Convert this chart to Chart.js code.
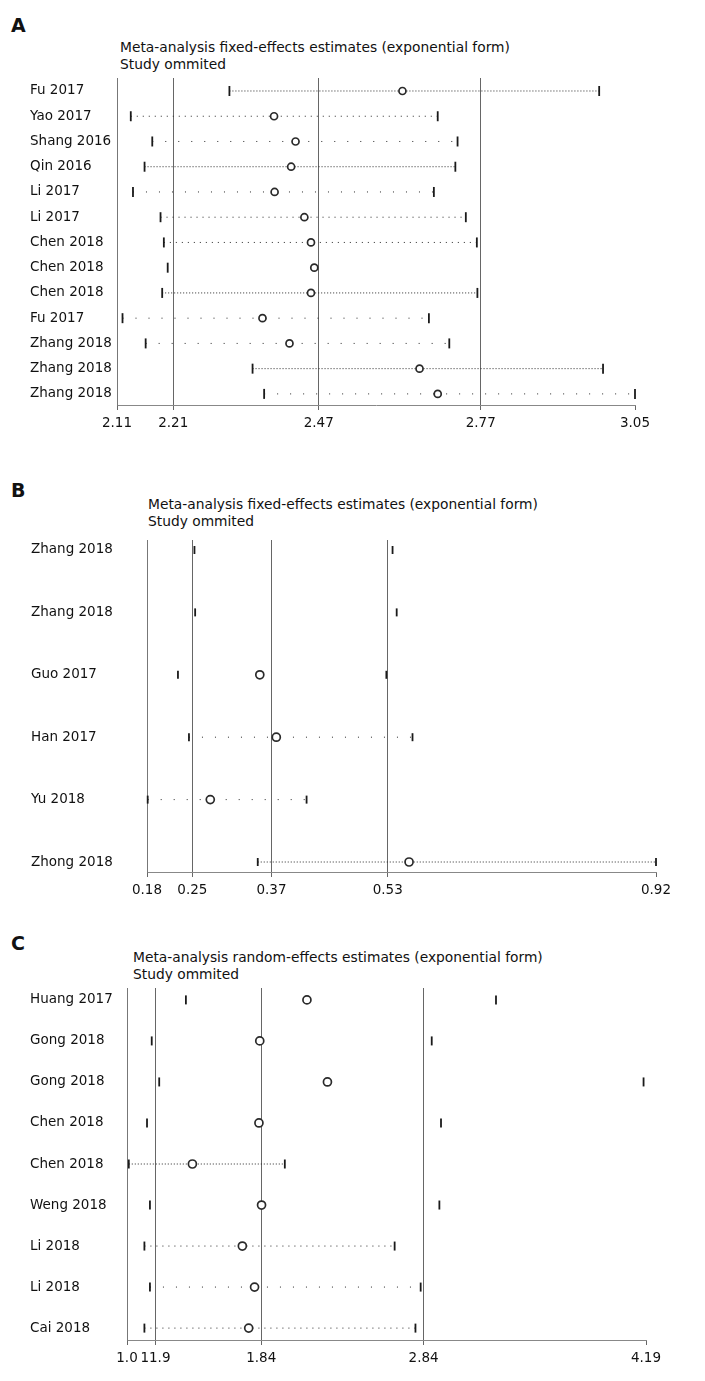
<!DOCTYPE html>
<html>
<head>
<meta charset="utf-8">
<script src="https://cdn.jsdelivr.net/npm/chart.js@4.4.1/dist/chart.umd.min.js"></script>
<style>
  body { margin: 0; background: #fff; width: 705px; height: 1381px; position: relative;
         font-family: "DejaVu Sans", sans-serif; color: #111; overflow: hidden; }
  canvas { position: absolute; left: 0; }
  .letter { position: absolute; left: 11px; font-weight: bold; font-size: 19px; line-height: 20px; }
  .title { position: absolute; font-size: 13.8px; line-height: 17px; white-space: nowrap; }
</style>
</head>
<body>

<div class="letter" style="top:15px">A</div>
<div class="title" style="left:120px; top:39px">Meta-analysis fixed-effects estimates (exponential form)<br>Study ommited</div>
<canvas id="chartA" width="705" height="445" style="top:0px"></canvas>

<div class="letter" style="top:480px">B</div>
<div class="title" style="left:148px; top:496px">Meta-analysis fixed-effects estimates (exponential form)<br>Study ommited</div>
<canvas id="chartB" width="705" height="465" style="top:455px"></canvas>

<div class="letter" style="top:933px">C</div>
<div class="title" style="left:133px; top:949px">Meta-analysis random-effects estimates (exponential form)<br>Study ommited</div>
<canvas id="chartC" width="705" height="456" style="top:925px"></canvas>

<script>
// Panel A : fixed effects
const aStudies = ['Fu 2017', 'Yao 2017', 'Shang 2016', 'Qin 2016', 'Li 2017', 'Li 2017', 'Chen 2018',
                  'Chen 2018', 'Chen 2018', 'Fu 2017', 'Zhang 2018', 'Zhang 2018', 'Zhang 2018'];
const aLower    = [2.314, 2.135, 2.174, 2.160, 2.139, 2.189, 2.195, 2.202, 2.192, 2.120, 2.162, 2.356, 2.377];
const aEstimate = [2.628, 2.395, 2.434, 2.426, 2.396, 2.450, 2.462, 2.468, 2.462, 2.374, 2.423, 2.659, 2.692];
const aUpper    = [2.985, 2.692, 2.728, 2.724, 2.685, 2.743, 2.763, null, 2.764, 2.676, 2.713, 2.992, 3.05];
const aTickValues = [2.11, 2.212, 2.476, 2.770, 3.05];
const aTickLabels = ['2.11', '2.21', '2.47', '2.77', '3.05'];
const aLine = ['dense', 'dots', 'sparse', 'dense', 'sparse', 'dots', 'dots', 'none', 'dense', 'sparse', 'sparse', 'dense', 'sparse'];

// Panel B : fixed effects
const bStudies = ['Zhang 2018', 'Zhang 2018', 'Guo 2017', 'Han 2017', 'Yu 2018', 'Zhong 2018'];
const bLower    = [0.249, 0.250, 0.225, 0.241, 0.181, 0.341];
const bEstimate = [null, null, 0.344, 0.368, 0.272, 0.561];
const bUpper    = [0.537, 0.543, 0.528, 0.566, 0.412, 0.92];
const bTickValues = [0.18, 0.246, 0.361, 0.53, 0.92];
const bTickLabels = ['0.18', '0.25', '0.37', '0.53', '0.92'];
const bLine = ['none', 'none', 'none', 'sparse', 'sparse', 'dense'];

// Panel C : random effects
const cStudies = ['Huang 2017', 'Gong 2018', 'Gong 2018', 'Chen 2018', 'Chen 2018', 'Weng 2018', 'Li 2018', 'Li 2018', 'Cai 2018'];
const cLower    = [1.362, 1.152, 1.198, 1.123, 1.011, 1.141, 1.107, 1.141, 1.107];
const cEstimate = [2.106, 1.816, 2.232, 1.811, 1.402, 1.827, 1.709, 1.784, 1.748];
const cUpper    = [3.268, 2.873, 4.175, 2.930, 1.970, 2.920, 2.645, 2.805, 2.773];
const cTickValues = [1.0, 1.175, 1.825, 2.823, 4.19];
const cTickLabels = ['1.0', '11.9', '1.84', '2.84', '4.19'];
const cLine = ['none', 'none', 'none', 'none', 'dense', 'none', 'dots', 'sparse', 'dots'];

const FONT = { family: '"DejaVu Sans", sans-serif', size: 13.5 };
const dashes = { dense: [1, 2], dots: [1, 5], sparse: [1, 12] };

function forestPanel(id, p, layout) {
  const datasets = [];

  // estimates (on top)
  datasets.push({
    type: 'scatter', order: 0, clip: false,
    data: p.est.map((v, i) => v == null ? null : { x: v, y: i }).filter(Boolean),
    pointStyle: 'circle', pointRadius: layout.dot, pointBackgroundColor: '#fff',
    pointBorderColor: '#2a2a2a', pointBorderWidth: 1.7
  });

  // CI end ticks
  const ends = [];
  p.lower.forEach((lo, i) => {
    if (lo != null) ends.push({ x: lo, y: i });
    if (p.upper[i] != null) ends.push({ x: p.upper[i], y: i });
  });
  datasets.push({
    type: 'scatter', order: 1, clip: false, data: ends,
    pointStyle: 'line', pointRotation: 90, pointRadius: layout.tick,
    pointBorderColor: '#1a1a1a', pointBorderWidth: 1.8
  });

  // dotted CI lines
  p.lower.forEach((lo, i) => {
    const hi = p.upper[i];
    if (p.line[i] === 'none' || lo == null || hi == null) return;
    datasets.push({
      type: 'line', order: 2, clip: false,
      data: [{ x: lo, y: i }, { x: hi, y: i }],
      borderColor: '#2a2a2a', borderWidth: 1, borderDash: dashes[p.line[i]],
      pointRadius: 0, fill: false
    });
  });

  const last = p.tickValues.length - 1;
  new Chart(document.getElementById(id), {
    data: { datasets },
    options: {
      responsive: false,
      animation: false,
      layout: { padding: { left: layout.left, right: layout.right, top: layout.top, bottom: 0 } },
      plugins: { legend: { display: false }, tooltip: { enabled: false } },
      scales: {
        x: {
          type: 'linear',
          min: p.tickValues[0],
          max: p.tickValues[last],
          afterBuildTicks: s => { s.ticks = p.tickValues.map(v => ({ value: v })); },
          afterFit: s => { s.height = layout.xHeight; },
          ticks: {
            autoSkip: false, maxRotation: 0, padding: 5, color: '#111', font: FONT,
            callback: (v, idx) => p.tickLabels[idx]
          },
          grid: {
            color: c => c.index === last ? 'rgba(0,0,0,0)' : '#666',
            tickColor: '#666', tickLength: 5, lineWidth: 1
          },
          border: { color: '#888', width: 1 }
        },
        y: {
          type: 'linear',
          reverse: true,
          min: layout.yMin,
          max: layout.yMax,
          afterBuildTicks: s => { s.ticks = p.studies.map((_, i) => ({ value: i })); },
          afterFit: s => { s.width = layout.yWidth; },
          ticks: {
            autoSkip: false, crossAlign: 'far', padding: 0, color: '#111', font: FONT,
            callback: (v, idx) => p.studies[idx]
          },
          grid: { display: false },
          border: { display: true, color: '#777', width: 1 }
        }
      }
    }
  });
}

forestPanel('chartA',
  { studies: aStudies, lower: aLower, est: aEstimate, upper: aUpper, line: aLine,
    tickValues: aTickValues, tickLabels: aTickLabels },
  { left: 30, right: 70, top: 78, yWidth: 87, xHeight: 40, yMin: -0.515, yMax: 12.44, dot: 3.5, tick: 5 });

forestPanel('chartB',
  { studies: bStudies, lower: bLower, est: bEstimate, upper: bUpper, line: bLine,
    tickValues: bTickValues, tickLabels: bTickLabels },
  { left: 31, right: 49, top: 85, yWidth: 116, xHeight: 48, yMin: -0.16, yMax: 5.16, dot: 4, tick: 4 });

forestPanel('chartC',
  { studies: cStudies, lower: cLower, est: cEstimate, upper: cUpper, line: cLine,
    tickValues: cTickValues, tickLabels: cTickLabels },
  { left: 30, right: 59, top: 63, yWidth: 97, xHeight: 41, yMin: -0.29, yMax: 8.29, dot: 4, tick: 4.5 });
</script>
</body>
</html>
